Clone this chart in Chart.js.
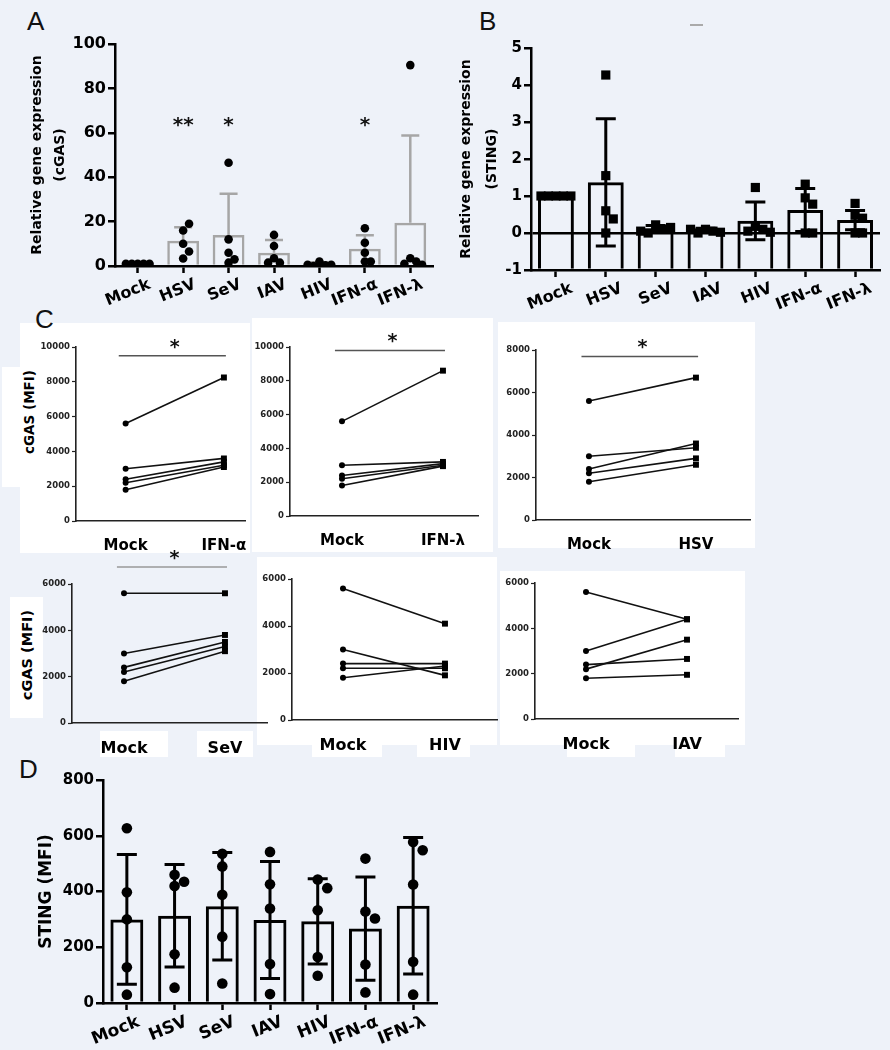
<!DOCTYPE html>
<html lang="en">
<head>
<meta charset="UTF-8">
<title>cGAS and STING expression</title>
<script src="https://cdn.jsdelivr.net/npm/chart.js"></script>
<style>
  body { margin: 0; background: #eef2f9; }
  #page { position: relative; width: 890px; height: 1050px; overflow: hidden; }
  .box { position: absolute; background: #fff; }
  .cv { position: absolute; }
  .letter { position: absolute; font: 26px 'Liberation Sans', Arial, sans-serif; color: #111; }
  .ytitle { position: absolute; font-family: 'DejaVu Sans', sans-serif; font-weight: bold; color: #000;
            white-space: nowrap; transform: translate(-50%, -50%) rotate(-90deg); }
</style>
</head>
<body>
<div id="page">
  <!-- white patches behind panel C -->
  <div class="box" style="left:20px;top:323px;width:230px;height:230px"></div>
  <div class="box" style="left:2px;top:367px;width:20px;height:120px"></div>
  <div class="box" style="left:252px;top:318px;width:241px;height:234px"></div>
  <div class="box" style="left:498px;top:322px;width:257px;height:226px"></div>
  <div class="box" style="left:10px;top:597px;width:33px;height:121px"></div>
  <div class="box" style="left:100px;top:731px;width:68px;height:26px"></div>
  <div class="box" style="left:197px;top:731px;width:56px;height:26px"></div>
  <div class="box" style="left:257px;top:557px;width:240px;height:188px"></div>
  <div class="box" style="left:312px;top:745px;width:70px;height:12px"></div>
  <div class="box" style="left:417px;top:745px;width:53px;height:12px"></div>
  <div class="box" style="left:500px;top:571px;width:245px;height:174px"></div>
  <div class="box" style="left:567px;top:745px;width:68px;height:12px"></div>
  <div class="box" style="left:675px;top:745px;width:50px;height:12px"></div>

  <div class="letter" style="left:27px;top:6px">A</div>
  <div class="letter" style="left:479px;top:6px">B</div>
  <div class="letter" style="left:35px;top:304px">C</div>
  <div class="letter" style="left:19px;top:754px">D</div>
  <div style="position:absolute;left:690px;top:24px;width:13px;height:1.5px;background:#aaa"></div>

  <div class="ytitle" style="left:29px;top:412px;font-size:13.5px">cGAS (MFI)</div>
  <div class="ytitle" style="left:27px;top:655px;font-size:14.5px">cGAS (MFI)</div>

  <div class="cv" style="left:0px;top:0px;width:450px;height:310px"><canvas id="chartA"></canvas></div>
  <div class="cv" style="left:445px;top:0px;width:445px;height:310px"><canvas id="chartB"></canvas></div>
  <div class="cv" style="left:36px;top:317px;width:219px;height:239px"><canvas id="c1"></canvas></div>
  <div class="cv" style="left:250px;top:317px;width:233px;height:234px"><canvas id="c2"></canvas></div>
  <div class="cv" style="left:496px;top:320px;width:259px;height:235px"><canvas id="c3"></canvas></div>
  <div class="cv" style="left:32px;top:545px;width:240px;height:213px"><canvas id="c4"></canvas></div>
  <div class="cv" style="left:252px;top:549px;width:250px;height:206px"><canvas id="c5"></canvas></div>
  <div class="cv" style="left:495px;top:553px;width:248px;height:201px"><canvas id="c6"></canvas></div>
  <div class="cv" style="left:0px;top:760px;width:450px;height:290px"><canvas id="chartD"></canvas></div>
</div>

<script>
const groups = ['Mock', 'HSV', 'SeV', 'IAV', 'HIV', 'IFN-α', 'IFN-λ'];

// A: relative cGAS expression
const cgasMean = [1, 11.4, 14, 6, 0.8, 7.8, 19.5];
const cgasSD = [0.2, 6.1, 18.5, 5.7, 0.9, 6, 39.3];
const cgasPts = [
  [1, 1, 1, 1, 1],
  [16, 19, 10, 3.4, 6.5],
  [46.5, 12, 6, 1.5, 3],
  [14, 9, 3.5, 1.5, 1.5],
  [2, 0.3, 0, 0.5, 0.5],
  [17, 10.5, 6, 2, 2],
  [90.5, 3.5, 2, 1, 0.5]
];
const cgasStars = ['', '**', '*', '', '', '*', ''];

// B: relative STING expression
const stingMean = [1, 1.37, 0.12, 0.08, 0.33, 0.62, 0.35];
const stingSD = [0, 1.72, 0.08, 0.05, 0.51, 0.58, 0.26];
const stingPts = [
  [1, 1, 1, 1, 1],
  [4.27, 1.55, 0.6, 0.38, 0],
  [0.22, 0.1, 0, 0.15, 0.05],
  [0.1, 0.05, 0, 0.02, 0.1],
  [1.23, 0.18, 0.1, 0.05, 0.02],
  [1.32, 0.95, 0.78, 0, 0],
  [0.8, 0.48, 0.4, 0, 0]
];

// C: cGAS MFI, mock vs treated (same donors)
const mfiMock = [5600, 3000, 2400, 2200, 1800];
const mfiIFNa = [8250, 3600, 3400, 3200, 3100];
const mfiIFNl = [8600, 3200, 3100, 3000, 2950];
const mfiHSV = [6700, 3400, 3600, 2900, 2600];
const mfiSeV = [5600, 3800, 3500, 3300, 3100];
const mfiHIV = [4100, 1900, 2400, 2200, 2300];
const mfiIAV = [4400, 4400, 2650, 3500, 1950];

// D: STING MFI
const stingMfiMean = [300, 313, 347, 298, 293, 267, 349];
const stingMfiSD = [233, 184, 193, 210, 153, 185, 245];
const stingMfiPts = [
  [627, 397, 300, 128, 30],
  [460, 435, 420, 175, 55],
  [535, 490, 388, 238, 70],
  [542, 426, 339, 140, 32],
  [443, 412, 333, 165, 98],
  [518, 328, 303, 138, 38],
  [578, 548, 425, 148, 30]
];

Chart.defaults.font.family = "'DejaVu Sans', sans-serif";
Chart.defaults.color = '#000';
const bold = (size) => ({ size: size, weight: 'bold' });

// spread points that would overlap (simple beeswarm)
function swarm(vals, thresh, step) {
  const placed = [];
  return vals.map(v => {
    for (let k = 0; k < 12; k++) {
      const off = k === 0 ? 0 : (k % 2 ? 1 : -1) * Math.ceil(k / 2) * step;
      const clash = placed.some(p => Math.abs(p.v - v) < thresh && Math.abs(p.o - off) < step * 0.9);
      if (!clash) { placed.push({ v: v, o: off }); return off; }
    }
    return 0;
  });
}

// error bars drawn right after the bar dataset
const errBars = {
  id: 'errBars',
  afterDatasetDraw(chart, args) {
    const ds = chart.data.datasets[args.index];
    if (!ds.sd) return;
    const y = chart.scales.y, ctx = chart.ctx;
    ctx.save();
    ctx.strokeStyle = ds.errColor;
    ctx.lineWidth = ds.errWidth;
    args.meta.data.forEach((bar, i) => {
      const m = ds.data[i];
      const top = y.getPixelForValue(m + ds.sd[i]);
      const bot = y.getPixelForValue(ds.errBoth ? m - ds.sd[i] : m);
      ctx.beginPath();
      ctx.moveTo(bar.x, top); ctx.lineTo(bar.x, bot);
      ctx.moveTo(bar.x - ds.cap, top); ctx.lineTo(bar.x + ds.cap, top);
      if (ds.errBoth) { ctx.moveTo(bar.x - ds.cap, bot); ctx.lineTo(bar.x + ds.cap, bot); }
      ctx.stroke();
    });
    ctx.restore();
  }
};
Chart.register(errBars);

function barPanel(id, o) {
  const pts = [];
  o.points.forEach((vals, i) => {
    swarm(vals, o.thresh, o.step).forEach((off, j) => pts.push({ x: i + off, y: vals[j] }));
  });
  return new Chart(document.getElementById(id), {
    type: 'bar',
    data: {
      labels: groups,
      datasets: [
        { type: 'scatter', data: pts, xAxisID: 'xs', pointStyle: o.pointStyle, pointRadius: o.r,
          backgroundColor: '#000', borderColor: '#000', borderWidth: 0, order: 1 },
        { data: o.mean, base: o.base, backgroundColor: 'rgba(0,0,0,0)', borderColor: o.barColor,
          borderWidth: o.bw, barPercentage: o.barPct, categoryPercentage: 1, grouped: false, order: 2,
          sd: o.sd, errBoth: o.errBoth, errColor: o.barColor, errWidth: o.bw, cap: o.cap }
      ]
    },
    options: {
      responsive: true, maintainAspectRatio: false, animation: false,
      layout: { padding: o.pad },
      plugins: { legend: { display: false }, tooltip: { enabled: false } },
      scales: {
        x: {
          offset: true,
          grid: { offset: false, drawOnChartArea: false, tickLength: 7, tickColor: '#000', tickWidth: 2.5 },
          border: { color: '#000', width: 2.5 },
          ticks: { font: bold(o.xFont), color: '#000', minRotation: o.rot, maxRotation: o.rot,
                   autoSkip: false, padding: 2, labelOffset: o.labelOffset },
          afterFit: s => { s.height = o.xH; }
        },
        xs: { type: 'linear', offset: false, min: -0.5, max: groups.length - 0.5, display: false },
        y: {
          min: o.min, max: o.max,
          ticks: { stepSize: o.stepSize, font: bold(o.yFont), color: '#000', padding: 2 },
          grid: {
            drawOnChartArea: o.zeroLine,
            color: c => (o.zeroLine && c.tick && c.tick.value === 0) ? '#000' : 'rgba(0,0,0,0)',
            lineWidth: 2.5, tickLength: 7, tickColor: '#000', tickWidth: 2.5
          },
          border: { color: '#000', width: 2.5 },
          title: { display: true, text: o.title, font: { size: o.titleSize, weight: 'bold', lineHeight: o.titleLH },
                   color: '#000', padding: { top: o.titlePad, bottom: 0 } },
          afterFit: s => { s.width = o.yW; }
        }
      }
    },
    plugins: o.extra ? [o.extra] : []
  });
}

// A
barPanel('chartA', {
  mean: cgasMean, sd: cgasSD, points: cgasPts, errBoth: false,
  thresh: 3.6, step: 0.13, pointStyle: 'circle', r: 4.3,
  barColor: '#a6a6a6', bw: 2.5, barPct: 0.7, cap: 9, base: 0,
  min: 0, max: 100, stepSize: 20, zeroLine: false,
  pad: { top: 44, right: 17, left: 0, bottom: 0 }, yW: 115, xH: 44,
  xFont: 16, yFont: 16, rot: 22, labelOffset: 12,
  title: ['Relative gene expression', '(cGAS)'], titleSize: 14, titleLH: 1.65, titlePad: 25.5,
  extra: {
    id: 'starsA',
    afterDraw(chart) {
      const ctx = chart.ctx, x = chart.scales.x, y = chart.scales.y;
      ctx.save();
      ctx.font = 'bold 20px "DejaVu Sans", sans-serif';
      ctx.fillStyle = '#111'; ctx.textAlign = 'center'; ctx.textBaseline = 'middle';
      cgasStars.forEach((s, i) => { if (s) ctx.fillText(s, x.getPixelForValue(i), y.getPixelForValue(63)); });
      ctx.restore();
    }
  }
});

// B
barPanel('chartB', {
  mean: stingMean, sd: stingSD, points: stingPts, errBoth: true,
  thresh: 0.26, step: 0.15, pointStyle: 'rect', r: 6.5,
  barColor: '#000', bw: 3, barPct: 0.72, cap: 10, base: -1,
  min: -1, max: 5, stepSize: 1, zeroLine: true,
  pad: { top: 48, right: 10, left: 0, bottom: 0 }, yW: 86, xH: 40,
  xFont: 16, yFont: 15, rot: 22, labelOffset: 16,
  title: ['Relative gene expression', '(STING)'], titleSize: 14, titleLH: 1.85, titlePad: 8.7
});

// D
barPanel('chartD', {
  mean: stingMfiMean, sd: stingMfiSD, points: stingMfiPts, errBoth: true,
  thresh: 36, step: 0.2, pointStyle: 'circle', r: 5.3,
  barColor: '#000', bw: 3, barPct: 0.69, cap: 10, base: 0,
  min: 0, max: 800, stepSize: 200, zeroLine: false,
  pad: { top: 20, right: 13, left: 0, bottom: 0 }, yW: 103, xH: 47,
  xFont: 17, yFont: 15, rot: 22, labelOffset: 12,
  title: 'STING (MFI)', titleSize: 17, titleLH: 1.2, titlePad: 36.5
});

// C: paired mock vs treatment
const sigPlugin = {
  id: 'sig',
  afterDraw(chart) {
    const o = chart.config.options.sigBar;
    if (!o) return;
    const ctx = chart.ctx, x = chart.scales.x, y = chart.scales.y;
    const py = y.getPixelForValue(o.value);
    ctx.save();
    ctx.strokeStyle = o.color; ctx.lineWidth = 1.5;
    ctx.beginPath();
    ctx.moveTo(x.getPixelForValue(-0.07), py);
    ctx.lineTo(x.getPixelForValue(1.02), py);
    ctx.stroke();
    ctx.fillStyle = '#111';
    ctx.font = 'bold 19px "DejaVu Sans", sans-serif';
    ctx.textAlign = 'center'; ctx.textBaseline = 'middle';
    ctx.fillText('*', x.getPixelForValue(0.5), py - 8);
    ctx.restore();
  }
};

function pairPanel(id, o) {
  return new Chart(document.getElementById(id), {
    type: 'line',
    data: {
      datasets: mfiMock.map((m, i) => ({
        data: [{ x: 0, y: m }, { x: 1, y: o.treat[i] }],
        borderColor: '#111', borderWidth: 1.6,
        pointStyle: ['circle', 'rect'], pointRadius: [3, 4.2],
        pointBackgroundColor: '#000', pointBorderColor: '#000', pointBorderWidth: 0
      }))
    },
    options: {
      responsive: true, maintainAspectRatio: false, animation: false,
      layout: { padding: { top: o.padTop, right: 5, left: 0, bottom: 0 } },
      plugins: { legend: { display: false }, tooltip: { enabled: false } },
      sigBar: o.sig,
      scales: {
        x: {
          type: 'linear', min: o.xmin, max: o.xmax,
          grid: { display: false },
          border: { color: '#222', width: 1.6 },
          afterBuildTicks: s => { s.ticks = [{ value: 0 }, { value: 1 }]; },
          ticks: { callback: v => ['Mock', o.label][v], font: bold(o.labelSize), color: '#000',
                   padding: 8, maxRotation: 0, autoSkip: false },
          afterFit: s => { s.height = 35; }
        },
        y: {
          min: 0, max: o.max,
          ticks: { stepSize: 2000, callback: v => String(v), font: bold(8.5), color: '#222', padding: 2 },
          grid: { drawOnChartArea: false, tickLength: 4, tickColor: '#222', tickWidth: 1.2 },
          border: { color: '#222', width: 1.6 },
          afterFit: s => { s.width = 40; }
        }
      }
    },
    plugins: [sigPlugin]
  });
}

pairPanel('c1', { treat: mfiIFNa, label: 'IFN-α', max: 10000, xmin: -0.505, xmax: 1.218, padTop: 30, labelSize: 15,
  sig: { value: 9500, color: '#555' } });
pairPanel('c2', { treat: mfiIFNl, label: 'IFN-λ', max: 10000, xmin: -0.515, xmax: 1.347, padTop: 30, labelSize: 15,
  sig: { value: 9800, color: '#555' } });
pairPanel('c3', { treat: mfiHSV, label: 'HSV', max: 8000, xmin: -0.495, xmax: 1.505, padTop: 30, labelSize: 15,
  sig: { value: 7700, color: '#555' } });
pairPanel('c4', { treat: mfiSeV, label: 'SeV', max: 6000, xmin: -0.515, xmax: 1.416, padTop: 39, labelSize: 16,
  sig: { value: 6730, color: '#999' } });
pairPanel('c5', { treat: mfiHIV, label: 'HIV', max: 6000, xmin: -0.5, xmax: 1.51, padTop: 30, labelSize: 16 });
pairPanel('c6', { treat: mfiIAV, label: 'IAV', max: 6000, xmin: -0.505, xmax: 1.505, padTop: 30, labelSize: 16 });
</script>
</body>
</html>
